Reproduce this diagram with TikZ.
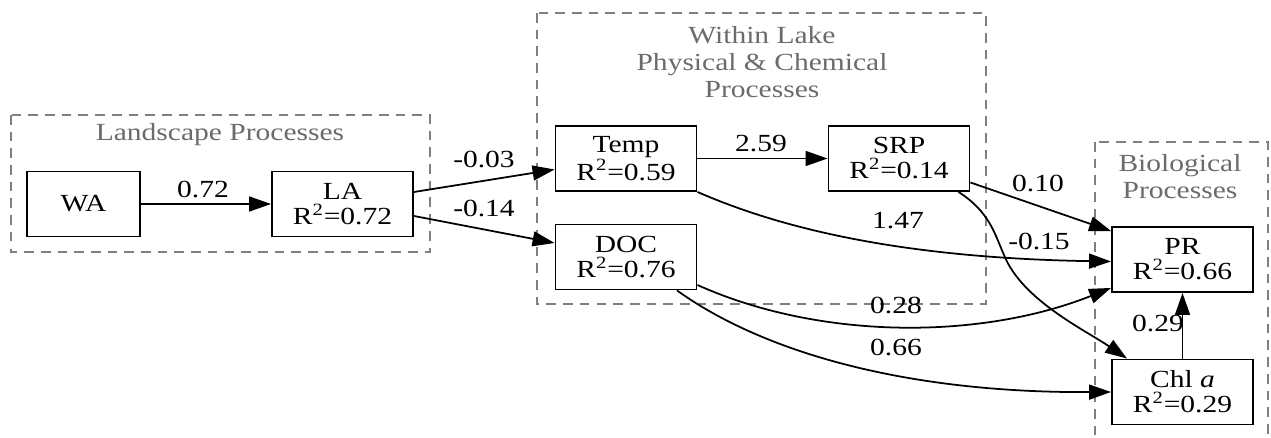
\documentclass[tikz,border=0pt]{standalone}
\usepackage{fontspec}
\setmainfont{Liberation Serif}[FakeStretch=1.2]
\usetikzlibrary{arrows.meta,calc}
\begin{document}
\begin{tikzpicture}[x=0.02cm,y=-0.02cm,
 every node/.style={font=\fontsize{14}{14.2}\selectfont},
 box/.style={draw, line width=1.1pt, minimum width=2.82cm, minimum height=1.3cm, align=center, inner sep=0pt},
 cluster/.style={draw=gray, dash pattern=on 5.5pt off 4pt, line width=0.9pt},
 ctitle/.style={text=black!58, align=center, font=\fontsize{14}{15.3}\selectfont},
 edge/.style={line width=1pt, -{Triangle[length=12.5pt,width=8.5pt]}},
 elab/.style={inner sep=0pt}]
\useasboundingbox (0,0) rectangle (1271,438);
% clusters
\draw[cluster] (11,115) rectangle (430,252);
\draw[cluster] (537,13) rectangle (986,304);
\draw[cluster] (1095,142) rectangle (1268,460);
\node[ctitle] (tland) at (220,135) {Landscape Processes};
\node[ctitle] (tlake) at (762,62) {Within Lake\\Physical \& Chemical\\Processes};
\node[ctitle] (tbio) at (1180,177) {Biological\\Processes};
% nodes
\node[box, minimum width=2.26cm] (wa) at (83.5,204) {WA};
\node[box] (la) at (342.5,204) {LA\\R\textsuperscript{2}=0.72};
\node[box] (temp) at (626,158.5) {Temp\\R\textsuperscript{2}=0.59};
\node[box] (srp) at (899,158.5) {SRP\\R\textsuperscript{2}=0.14};
\node[box] (doc) at (626,257) {DOC\\R\textsuperscript{2}=0.76};
\node[box] (pr) at (1182.5,259.5) {PR\\R\textsuperscript{2}=0.66};
\node[box] (chl) at (1182.5,392) {Chl \textit{a}\\R\textsuperscript{2}=0.29};
% edges
\draw[edge] (wa.east) -- (la.west);
\draw[edge] ($(la.east)+(0,-12)$) -- ($(temp.west)+(0,11)$);
\draw[edge] ($(la.east)+(0,12)$) -- ($(doc.west)+(0,-14)$);
\draw[edge] (temp.east) -- (srp.west);
\draw[edge] (temp.south east) .. controls (780,228) and (900,258) .. ($(pr.west)+(0,2)$);
\draw[edge] ($(srp.east)+(0,24)$) -- ($(pr.north west)+(0,5)$);
\draw[edge] ($(srp.south east)+(-12,0)$) .. controls (990,212) and (995,235) .. (1004,255)
   .. controls (1022,300) and (1085,330) .. ($(chl.north west)+(16,0)$);
\draw[edge] ($(doc.east)+(0,28)$) .. controls (820,340) and (980,340) .. ($(pr.south west)+(0,-5)$);
\draw[edge] ($(doc.south)+(51,0)$) .. controls (760,350) and (900,393) .. (chl.west);
\draw[edge] (chl.north) -- (pr.south);
% edge labels
\node[elab] (l1) at (203,190) {0.72};
\node[elab] (l2) at (484,160) {-0.03};
\node[elab] (l3) at (484,209) {-0.14};
\node[elab] (l4) at (761,144) {2.59};
\node[elab] (l5) at (898,221) {1.47};
\node[elab] (l6) at (1038,183) {0.10};
\node[elab] (l7) at (1039,241) {-0.15};
\node[elab] (l8) at (896,305) {0.28};
\node[elab] (l9) at (896,347) {0.66};
\node[elab] (l10) at (1158,323) {0.29};
\end{tikzpicture}
\end{document}
